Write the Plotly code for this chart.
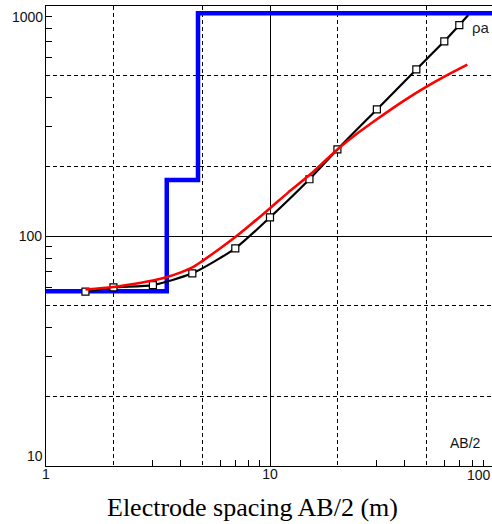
import numpy as np
import plotly.graph_objects as go

# ---- data ----
# Field (observed) apparent resistivity, black curve with square markers
AB2_OBS = [1.5, 2, 3, 4.5, 7, 10, 15, 20, 30, 45, 60, 70]
RHO_OBS = [57.3, 59.8, 61.2, 68.8, 88.4, 120.5, 176.5, 238, 355, 530, 702, 826]
# the black curve continues past the last marker up to the model line
AB2_OBS_TAIL = [76.8]
RHO_OBS_TAIL = [913]

# Calculated curve (red)
AB2_CALC = [1.5, 2, 2.5, 3, 3.5, 4, 4.5, 5, 6, 7, 8, 10, 12, 15, 20, 25, 30, 40, 50, 60, 76]
RHO_CALC = [58.5, 60, 62, 64, 66.5, 69.5, 73, 78, 88.5, 99, 110, 132, 154, 184, 238, 283, 322, 390, 446, 493, 556]

# Layered model (blue step line)
LAYER_RHO = [57.5, 175, 930]
LAYER_DEPTH = [3.46, 4.77]

X_TICKS = [1, 10, 100]
X_TICK_TEXT = ["1", "10", ""]
X_DASH_GRID = [2, 5, 20, 50]
X_MINOR = [3, 4, 6, 7, 8, 9, 30, 40, 60, 70, 80, 90]
Y_TICKS = [10, 100, 1000]
Y_TICK_TEXT = ["", "100", ""]
Y_DASH_GRID = [20, 50, 200, 500]
Y_MINOR = [30, 40, 60, 70, 80, 90, 300, 400, 600, 700, 800, 900]

X_RANGE = [0, 446 / 224]
Y_RANGE = [1, 3]

TICK_FONT = dict(family="Liberation Sans, Arial, sans-serif", size=14, color="#111")

fig = go.Figure()

model_x = [X_TICKS[0]] + LAYER_DEPTH + [X_TICKS[-1]]
model_y = LAYER_RHO + [LAYER_RHO[-1]]
fig.add_trace(go.Scatter(x=model_x, y=model_y, mode="lines",
                         line=dict(color="#0000ff", width=4.5, shape="hv"),
                         showlegend=False, hoverinfo="skip"))

fig.add_trace(go.Scatter(x=AB2_OBS + AB2_OBS_TAIL, y=RHO_OBS + RHO_OBS_TAIL, mode="lines",
                         line=dict(color="black", width=2.2, shape="spline", smoothing=0.6),
                         showlegend=False, hoverinfo="skip"))

fig.add_trace(go.Scatter(x=AB2_OBS, y=RHO_OBS, mode="markers",
                         marker=dict(symbol="square", size=7, color="white",
                                     line=dict(color="black", width=1.2)),
                         showlegend=False))

# the red curve lives on the overlay axes (drawn on top, and those axes carry the dashed grid)
fig.add_trace(go.Scatter(x=AB2_CALC, y=RHO_CALC, mode="lines", xaxis="x2", yaxis="y2",
                         line=dict(color="#ff0000", width=2.6, shape="spline", smoothing=0.8),
                         showlegend=False, hoverinfo="skip"))

fig.update_layout(
    width=492, height=524,
    margin=dict(l=46, r=0, t=6, b=58),
    paper_bgcolor="white", plot_bgcolor="white",
    showlegend=False,
    xaxis=dict(type="log", range=X_RANGE, tickmode="array", tickvals=X_TICKS,
               ticktext=X_TICK_TEXT, ticks="inside", ticklen=6, tickcolor="black",
               showgrid=True, gridcolor="black", ticklabelstandoff=-5,
               gridwidth=1, showline=True, linecolor="black", linewidth=1.3,
               mirror=True, zeroline=False, tickfont=TICK_FONT,
               minor=dict(tickmode="array", tickvals=X_MINOR, ticks="inside",
                          ticklen=6, tickcolor="black", tickwidth=1, showgrid=False)),
    yaxis=dict(type="log", range=Y_RANGE, tickmode="array", tickvals=Y_TICKS,
               ticktext=Y_TICK_TEXT, ticks="inside", ticklen=6, tickcolor="black",
               showgrid=True, gridcolor="black",
               gridwidth=1, showline=True, linecolor="black", linewidth=1.3,
               mirror=False, zeroline=False, tickfont=TICK_FONT,
               minor=dict(tickmode="array", tickvals=Y_MINOR, ticks="inside",
                          ticklen=6, tickcolor="black", tickwidth=1, showgrid=False)),
    xaxis2=dict(type="log", range=X_RANGE, overlaying="x", anchor="y2",
                tickmode="array", tickvals=X_DASH_GRID, showticklabels=False,
                ticks="", showgrid=True, gridcolor="black", gridwidth=1,
                griddash="4px,3px", showline=False, zeroline=False),
    yaxis2=dict(type="log", range=Y_RANGE, overlaying="y", anchor="x2",
                tickmode="array", tickvals=Y_DASH_GRID, showticklabels=False,
                ticks="", showgrid=True, gridcolor="black", gridwidth=1,
                griddash="4px,3px", showline=False, zeroline=False),
)

annots = [
    # edge tick labels that sit inside the frame
    dict(text="1000", xref="paper", x=0, xanchor="right", xshift=-2,
         yref="paper", y=1, yanchor="middle", yshift=-11),
    dict(text="10", xref="paper", x=0, xanchor="right", xshift=-2,
         yref="paper", y=0, yanchor="middle", yshift=10),
    dict(text="100", xref="paper", x=1, xanchor="right", xshift=0,
         yref="paper", y=0, yanchor="middle", yshift=-9),
    dict(text="AB/2", xref="paper", x=1, xanchor="right", xshift=-10,
         yref="paper", y=0, yanchor="middle", yshift=23),
    dict(text="ρa", xref="paper", x=(471 - 46) / 446, xanchor="left",
         yref="paper", y=1, yanchor="middle", yshift=-21,
         font=dict(family="Liberation Sans, Arial, sans-serif", size=15, color="#222")),
]
for a in annots:
    a.setdefault("font", TICK_FONT)
    fig.add_annotation(showarrow=False, borderpad=0, **a)

fig.add_annotation(text="Electrode spacing AB/2 (m)", showarrow=False,
                   xref="paper", x=(252.5 - 46) / 446, xanchor="center",
                   yref="paper", y=0, yanchor="middle", yshift=-41,
                   font=dict(family="Liberation Serif, Times New Roman, serif",
                             size=26, color="black"))

fig.write_html("out.html")
